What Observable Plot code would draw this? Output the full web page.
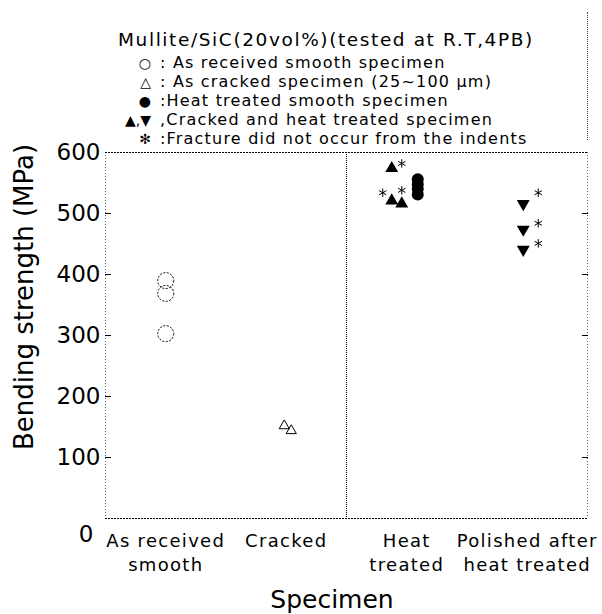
<!DOCTYPE html>
<html>
<head>
<meta charset="utf-8">
<script src="https://cdn.jsdelivr.net/npm/d3@7"></script>
<script src="https://cdn.jsdelivr.net/npm/@observablehq/plot@0.6"></script>
<style>
  body { margin: 0; background: #fff; }
  #wrap { position: relative; width: 602px; height: 614px; font-family: "DejaVu Sans", sans-serif; color: #000; overflow: hidden; }
  #wrap svg { position: absolute; left: 0; top: 0; }
  #wrap svg g[aria-label="x-axis tick label"] text { letter-spacing: 1.3px; }
  #legend { position: absolute; left: 0; top: 0; width: 602px; height: 150px; }
  #legend .ttl { position: absolute; left: 118px; top: 29px; font-size: 18.5px; line-height: 22px; letter-spacing: 1.6px; white-space: nowrap; }
  #legend .row { position: absolute; left: 0; height: 19px; line-height: 19px; font-size: 16px; white-space: nowrap; letter-spacing: 1.2px; }
  #legend .sym { display: inline-block; width: 151px; text-align: right; font-size: 14px; letter-spacing: 0; }
  #legend .txt { display: inline-block; padding-left: 9px; }
  #legend .frame { position: absolute; left: 587px; top: 12px; height: 128px; border-left: 1px dotted #444; }
  #ylabel { position: absolute; left: 24px; top: 297px; transform: translate(-50%, -50%) rotate(-90deg); font-size: 26px; white-space: nowrap; }
  #xlabel { position: absolute; left: 332px; top: 599px; transform: translate(-50%, -50%); font-size: 25px; white-space: nowrap; }
</style>
</head>
<body>
<div id="wrap"></div>
<script>
// ---- data ----
const categories = ["As received\nsmooth", "Cracked", "Heat\ntreated", "Polished after\nheat treated"];
const yTicks = [0, 100, 200, 300, 400, 500, 600];
const titleText = "Mullite/SiC(20vol%)(tested at R.T,4PB)";
const legendSymbols = ["○", "△", "●", "▲,▼", "✻"];
const legendLabels = [
  ": As received smooth specimen",
  ": As cracked specimen (25~100 μm)",
  ":Heat treated smooth specimen",
  ",Cracked and heat treated specimen",
  ":Fracture did not occur from the indents"
];
// Bending strength (MPa)
const asReceivedSmooth = [390, 369, 303];          // open circles, category 1
const asCrackedA = [152];                           // open triangles, category 2
const asCrackedB = [144];
const heatTreatedSmooth = [556, 548, 540, 531];    // filled circles, category 3
const heatCrackedUpA = [574, 521];                 // filled up-triangles, category 3
const heatCrackedUpB = [516];
const heatNoIndentA = [582, 538];                  // asterisks, category 3
const heatNoIndentB = [534];
const polishedCrackedDown = [516, 474, 441];       // filled down-triangles, category 4
const polishedNoIndent = [534, 484, 451];          // asterisks, category 4

// ---- helpers ----
const triangleDown = {
  draw(context, size) {
    const y = Math.sqrt(size / (Math.sqrt(3) * 3));
    context.moveTo(0, y * 2);
    context.lineTo(-Math.sqrt(3) * y, -y);
    context.lineTo(Math.sqrt(3) * y, -y);
    context.closePath();
  }
};
const pts = (arr, cat) => arr.map((v) => ({cat, v}));

const chart = Plot.plot({
  width: 602,
  height: 614,
  marginTop: 152,
  marginBottom: 96,
  marginLeft: 105,
  marginRight: 15,
  style: { fontFamily: "DejaVu Sans, sans-serif", background: "white", color: "black" },
  x: { domain: [0.5, 4.5] },
  y: { domain: [0, 600] },
  marks: [
    Plot.ruleX([0.5, 4.5], { stroke: "black", strokeWidth: 1, strokeDasharray: "1,2", strokeOpacity: 0.6 }),
    Plot.ruleX([2.5], { stroke: "black", strokeWidth: 1, strokeDasharray: "1,1" }),
    Plot.ruleY([0, 600], { stroke: "black", strokeWidth: 1.2, strokeDasharray: "2,1" }),
    Plot.axisX({ ticks: [1, 2, 3, 4], tickFormat: (i) => categories[i - 1], tickSize: 0, tickPadding: 12,
                 fontSize: 18, lineHeight: 1.3, label: null }),
    Plot.axisY({ ticks: yTicks.slice(1), tickSize: 0, tickPadding: 5, fontSize: 23, label: null }),
    Plot.axisY({ ticks: [0], tickSize: 0, tickPadding: 12, dy: 16, fontSize: 23, label: null }),
    Plot.axisY({ ticks: yTicks.slice(1, 6), tickSize: 6, dx: 6, tickFormat: () => "", label: null }),
    Plot.axisY({ anchor: "right", ticks: [100, 300, 400, 500], tickSize: 6, dx: -6, tickFormat: () => "", label: null }),
    // As received smooth
    Plot.dot(pts(asReceivedSmooth, 1), { x: "cat", y: "v", r: 8, stroke: "black", strokeWidth: 1, strokeDasharray: "2,1.5", fill: "none" }),
    // As cracked
    Plot.dot(pts(asCrackedA, 2), { x: "cat", y: "v", symbol: "triangle", r: 3.8, stroke: "black", strokeWidth: 1, fill: "none", dx: -2 }),
    Plot.dot(pts(asCrackedB, 2), { x: "cat", y: "v", symbol: "triangle", r: 3.8, stroke: "black", strokeWidth: 1, fill: "none", dx: 5 }),
    // Heat treated smooth
    Plot.dot(pts(heatTreatedSmooth, 3), { x: "cat", y: "v", r: 6, fill: "black", dx: 11 }),
    // Cracked and heat treated (up)
    Plot.dot(pts(heatCrackedUpA, 3), { x: "cat", y: "v", symbol: "triangle", r: 4.8, fill: "black", dx: -15 }),
    Plot.dot(pts(heatCrackedUpB, 3), { x: "cat", y: "v", symbol: "triangle", r: 4.8, fill: "black", dx: -5 }),
    // Fracture did not occur from indents
    Plot.dot(pts(heatNoIndentA, 3), { x: "cat", y: "v", symbol: "asterisk", r: 4, stroke: "black", strokeWidth: 1, dx: -5 }),
    Plot.dot(pts(heatNoIndentB, 3), { x: "cat", y: "v", symbol: "asterisk", r: 4, stroke: "black", strokeWidth: 1, dx: -24 }),
    // Polished after heat treated (down)
    Plot.dot(pts(polishedCrackedDown, 4), { x: "cat", y: "v", symbol: triangleDown, r: 4.8, fill: "black", dx: -4 }),
    Plot.dot(pts(polishedNoIndent, 4), { x: "cat", y: "v", symbol: "asterisk", r: 4, stroke: "black", strokeWidth: 1, dx: 11 })
  ]
});

const wrap = document.getElementById("wrap");
wrap.appendChild(chart);

// legend block above the plot
const legend = document.createElement("div");
legend.id = "legend";
const frame = document.createElement("div");
frame.className = "frame";
legend.appendChild(frame);
const ttl = document.createElement("div");
ttl.className = "ttl";
ttl.textContent = titleText;
legend.appendChild(ttl);
legendSymbols.forEach((s, i) => {
  const row = document.createElement("div");
  row.className = "row";
  row.style.top = (52.5 + i * 19) + "px";
  const sym = document.createElement("span");
  sym.className = "sym";
  sym.textContent = s;
  const txt = document.createElement("span");
  txt.className = "txt";
  txt.textContent = legendLabels[i];
  row.appendChild(sym);
  row.appendChild(txt);
  legend.appendChild(row);
});
wrap.appendChild(legend);

const yl = document.createElement("div");
yl.id = "ylabel";
yl.textContent = "Bending strength (MPa)";
wrap.appendChild(yl);
const xl = document.createElement("div");
xl.id = "xlabel";
xl.textContent = "Specimen";
wrap.appendChild(xl);
</script>
</body>
</html>
